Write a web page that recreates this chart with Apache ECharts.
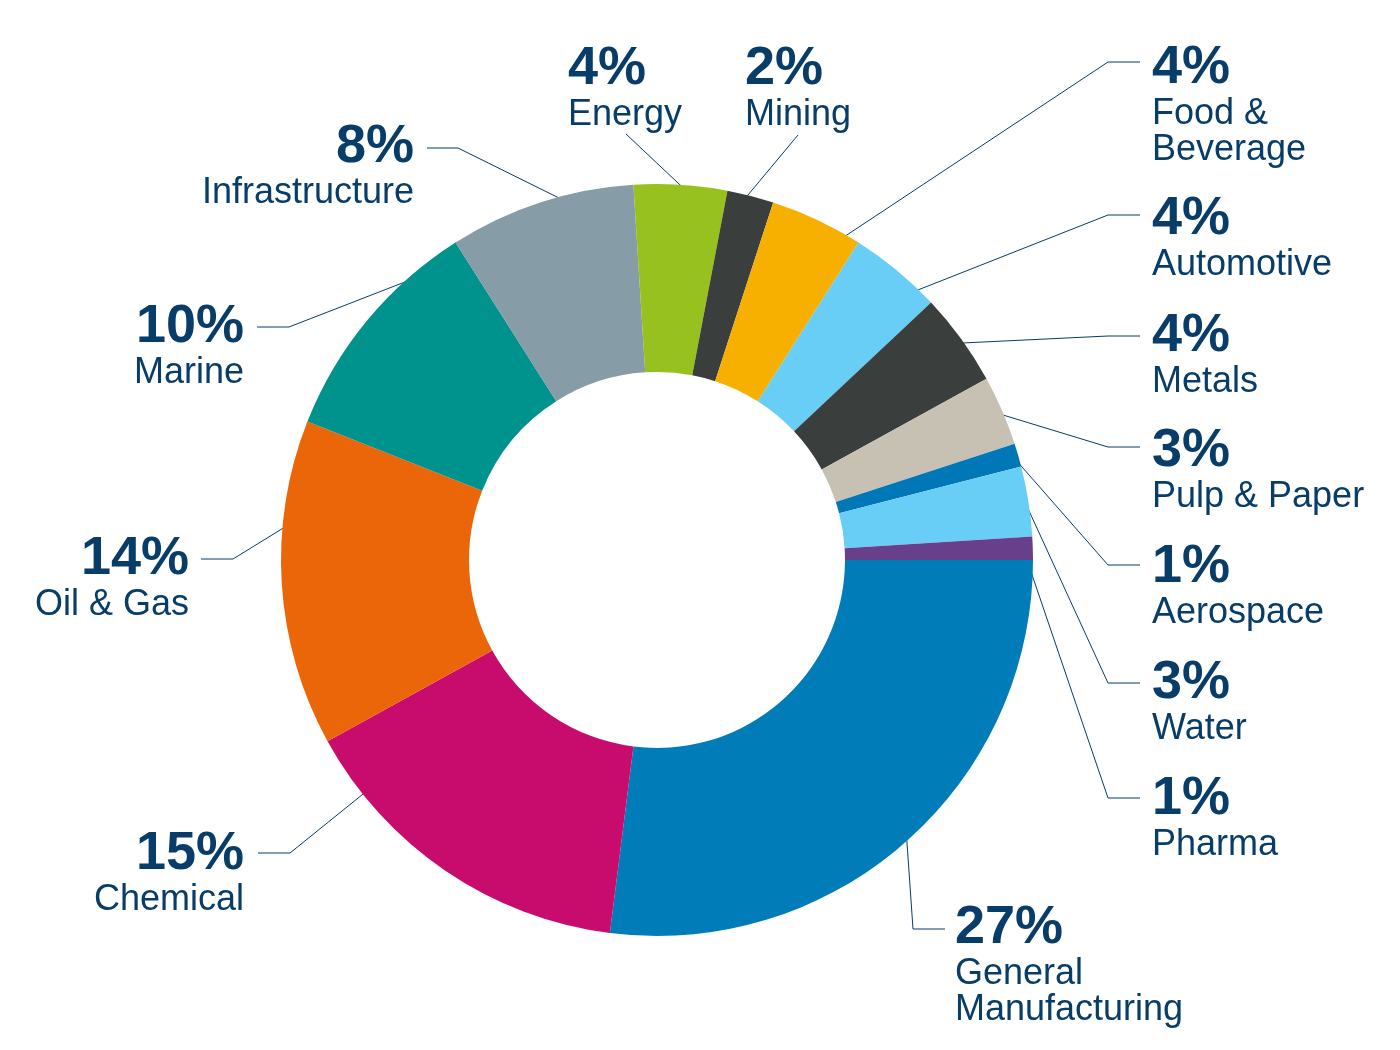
<!DOCTYPE html>
<html>
<head>
    <meta charset="utf-8">
    <title>Industries</title>
    <script type="text/javascript" src="https://cdn.jsdelivr.net/npm/echarts@6/dist/echarts.min.js"></script>
    <style>
        html, body { margin: 0; padding: 0; background: #ffffff; }
        #main { width: 1400px; height: 1050px; }
    </style>
</head>
<body>
    <div id="main"></div>
    <script type="text/javascript">
        // slices go clockwise from 3 o'clock
        var industries = ['General Manufacturing', 'Chemical', 'Oil & Gas', 'Marine', 'Infrastructure',
            'Energy', 'Mining', 'Food & Beverage', 'Automotive', 'Metals', 'Pulp & Paper',
            'Aerospace', 'Water', 'Pharma'];
        var labelNames = ['General\nManufacturing', 'Chemical', 'Oil & Gas', 'Marine', 'Infrastructure',
            'Energy', 'Mining', 'Food &\nBeverage', 'Automotive', 'Metals', 'Pulp & Paper',
            'Aerospace', 'Water', 'Pharma'];
        var shares = [27, 15, 14, 10, 8, 4, 2, 4, 4, 4, 3, 1, 3, 1];
        var colors = ['#007cb8', '#c70c6e', '#ea6609', '#00928c', '#869ca7', '#97c11f', '#3a3f3e',
            '#f8b000', '#68cef5', '#3a3f3e', '#c6c1b3', '#0078b8', '#68cef5', '#673f8a'];

        var CX = 657, CY = 560, R_IN = 188, R_OUT = 376, R_LINE = 370;
        var NAVY = '#073d68';
        var PCT_LH = 56;

        // label placement: [textX, percentCenterY, align, lineEndX, lineEndY, bendX]
        var labelSpots = [
            [955, 927, 'left', 945, 929, 913],
            [244, 853, 'right', 258, 853, 290],
            [189, 558, 'right', 201, 559, 233],
            [244, 326, 'right', 257, 327, 289],
            [414, 146, 'right', 427, 148, 458],
            [568, 68, 'left', 626, 134, null],
            [745, 68, 'left', 798, 135, null],
            [1152, 67, 'left', 1140, 62, 1108],
            [1152, 218, 'left', 1140, 215, 1108],
            [1152, 335, 'left', 1140, 336, 1108],
            [1152, 450, 'left', 1140, 447, 1108],
            [1152, 566, 'left', 1140, 565, 1108],
            [1152, 682, 'left', 1140, 683, 1108],
            [1152, 798, 'left', 1140, 798, 1108]
        ];
        // where along each slice (0 = start, 1 = end) the leader line starts
        var lineStart = [0.49, 0.82, 0.68, 0.79, 0.63, 0.57, 0.38, 0.82, 0.78, 0.51, 0.5, 0.44, 0.37, 1.0];

        var total = shares.reduce(function (s, v) { return s + v; }, 0);
        var startDeg = [];
        var acc = 0;
        shares.forEach(function (v) {
            startDeg.push(acc / total * 360);
            acc += v;
        });

        var chart = echarts.init(document.getElementById('main'));

        var option = {
            animation: false,
            backgroundColor: '#ffffff',
            textStyle: { fontFamily: '"Liberation Sans", Arial, sans-serif' },
            series: [{
                type: 'pie',
                center: [CX, CY],
                radius: [R_IN, R_OUT],
                startAngle: 0,
                clockwise: true,
                avoidLabelOverlap: false,
                silent: true,
                emphasis: { disabled: true },
                itemStyle: { borderWidth: 0 },
                data: industries.map(function (name, i) {
                    return { name: name, value: shares[i], itemStyle: { color: colors[i] } };
                }),
                label: {
                    show: true,
                    position: 'outside',
                    color: NAVY,
                    formatter: function (p) {
                        return '{p|' + p.value + '%}\n{n|' + labelNames[p.dataIndex] + '}';
                    },
                    rich: {
                        p: { fontSize: 54, fontWeight: 'bold', lineHeight: PCT_LH, color: NAVY,
                             fontFamily: '"Liberation Sans", Arial, sans-serif' },
                        n: { fontSize: 36, lineHeight: 36, color: NAVY,
                             fontFamily: '"Liberation Sans", Arial, sans-serif' }
                    }
                },
                labelLine: {
                    show: true,
                    smooth: false,
                    lineStyle: { color: NAVY, width: 1 }
                },
                labelLayout: function (p) {
                    var i = p.dataIndex;
                    var spot = labelSpots[i];
                    var sweep = shares[i] / total * 360;
                    var ang = (startDeg[i] + sweep * lineStart[i]) * Math.PI / 180;
                    var s = [CX + R_LINE * Math.cos(ang), CY + R_LINE * Math.sin(ang)];
                    var e = [spot[3], spot[4]];
                    var b = spot[5] == null ? [(s[0] + e[0]) / 2, (s[1] + e[1]) / 2] : [spot[5], spot[4]];
                    return {
                        x: spot[0],
                        y: spot[1] - PCT_LH / 2 + 1,
                        align: spot[2],
                        verticalAlign: 'top',
                        labelLinePoints: [s, b, e]
                    };
                }
            }]
        };

        chart.setOption(option);
    </script>
</body>
</html>
